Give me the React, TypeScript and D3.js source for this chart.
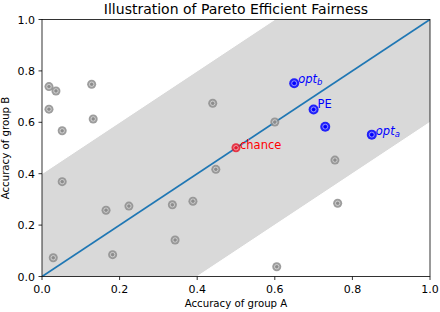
import React from 'react';
import * as d3 from 'd3';

// gray candidate classifiers (accuracy A, accuracy B)
const grayA = [0.018, 0.036, 0.018, 0.052, 0.128, 0.132, 0.44, 0.448, 0.60, 0.755, 0.762, 0.605, 0.052, 0.165, 0.224, 0.336, 0.389, 0.343, 0.029, 0.182];
const grayB = [0.739, 0.722, 0.651, 0.567, 0.748, 0.613, 0.674, 0.417, 0.601, 0.453, 0.285, 0.038, 0.369, 0.258, 0.274, 0.279, 0.293, 0.142, 0.073, 0.085];

// pareto efficient points
const blueA = [0.65, 0.70, 0.73, 0.85];
const blueB = [0.752, 0.65, 0.583, 0.552];
const blueLabels = ['opt_b', 'PE', '', 'opt_a'];

const chanceA = 0.5;
const chanceB = 0.501;

const bandWidth = 0.4;
const ticks = [0, 0.2, 0.4, 0.6, 0.8, 1.0];

const W = 440;
const H = 312;
const margin = { left: 42, right: 10, top: 19.5, bottom: 35.5 };
const font = 'DejaVu Sans, sans-serif';

const Marker = ({ cx, cy, color, r = 4.5 }: { cx: number; cy: number; color: string; r?: number }) => (
  <g>
    <circle cx={cx} cy={cy} r={r} fill={color} fillOpacity={0.85} />
    <circle cx={cx} cy={cy} r={r * 0.5} fill="none" stroke="#fff" strokeOpacity={0.6} strokeWidth={0.8} />
    <circle cx={cx} cy={cy} r={r * 0.3} fill={color} />
  </g>
);

const Label = ({ x, y, text, color }: { x: number; y: number; text: string; color: string }) => {
  if (text.startsWith('opt_')) {
    return (
      <text x={x} y={y} fill={color} fontSize={11.5} fontFamily={font} fontStyle="italic">
        opt<tspan fontSize={8.5} dy={2}>{text.slice(4)}</tspan>
      </text>
    );
  }
  return (
    <text x={x} y={y} fill={color} fontSize={11.5} fontFamily={font}>
      {text}
    </text>
  );
};

export default function App() {
  const x = d3.scaleLinear().domain([0, 1]).range([margin.left, W - margin.right]);
  const y = d3.scaleLinear().domain([0, 1]).range([H - margin.bottom, margin.top]);

  const xs = [0, bandWidth, 1 - bandWidth, 1];
  const area = d3.area<number>()
    .x(d => x(d))
    .y0(d => y(Math.max(0, d - bandWidth)))
    .y1(d => y(Math.min(1, d + bandWidth)));
  const upper = d3.line<number>().x(d => x(d)).y(d => y(d + bandWidth));
  const lower = d3.line<number>().x(d => x(d)).y(d => y(d - bandWidth));

  return (
    <svg width={W} height={H} style={{ position: 'absolute', left: 0, top: 0, background: '#fff' }}>
      <defs>
        <clipPath id="plot">
          <rect x={x(0)} y={y(1)} width={x(1) - x(0)} height={y(0) - y(1)} />
        </clipPath>
      </defs>
      <text x={(x(0) + x(1)) / 2} y={13.5} textAnchor="middle" fontSize={14} fontFamily={font}>
        Illustration of Pareto Efficient Fairness
      </text>

      <g clipPath="url(#plot)">
        <path d={area(xs) ?? ''} fill="#d9d9d9" />
        <path d={upper([0, 1 - bandWidth]) ?? ''} stroke="#fff" strokeWidth={1} fill="none" />
        <path d={lower([bandWidth, 1]) ?? ''} stroke="#fff" strokeWidth={1} fill="none" />
        <line x1={x(0)} y1={y(0)} x2={x(1)} y2={y(1)} stroke="#1f77b4" strokeWidth={1.8} />
      </g>

      {grayA.map((a, i) => (
        <Marker key={'g' + i} cx={x(a)} cy={y(grayB[i])} color="#8c8c8c" />
      ))}
      <Marker cx={x(chanceA)} cy={y(chanceB)} color="#e8192c" />
      <Label x={x(chanceA) + 4} y={y(chanceB) + 1} text="chance" color="red" />
      {blueA.map((a, i) => (
        <g key={'b' + i}>
          <Marker cx={x(a)} cy={y(blueB[i])} color="#0000ff" r={5} />
          {blueLabels[i] && (
            <Label x={x(a) + 4} y={y(blueB[i]) + (blueLabels[i] === 'PE' ? -1 : 0)} text={blueLabels[i]} color="blue" />
          )}
        </g>
      ))}

      <rect x={x(0)} y={y(1)} width={x(1) - x(0)} height={y(0) - y(1)} fill="none" stroke="#000" strokeWidth={0.8} />

      {ticks.map(t => (
        <g key={'x' + t}>
          <line x1={x(t)} x2={x(t)} y1={y(0)} y2={y(0) + 3.5} stroke="#000" strokeWidth={0.8} />
          <text x={x(t)} y={y(0) + 16.5} textAnchor="middle" fontSize={11} fontFamily={font}>{t.toFixed(1)}</text>
        </g>
      ))}
      {ticks.map(t => (
        <g key={'y' + t}>
          <line x1={x(0) - 3.5} x2={x(0)} y1={y(t)} y2={y(t)} stroke="#000" strokeWidth={0.8} />
          <text x={x(0) - 7} y={y(t) + 4} textAnchor="end" fontSize={11} fontFamily={font}>{t.toFixed(1)}</text>
        </g>
      ))}

      <text x={(x(0) + x(1)) / 2} y={H - 5} textAnchor="middle" fontSize={10.2} fontFamily={font}>
        Accuracy of group A
      </text>
      <text transform={`translate(9, ${(y(0) + y(1)) / 2}) rotate(-90)`} textAnchor="middle" fontSize={10.2} fontFamily={font}>
        Accuracy of group B
      </text>
    </svg>
  );
}
